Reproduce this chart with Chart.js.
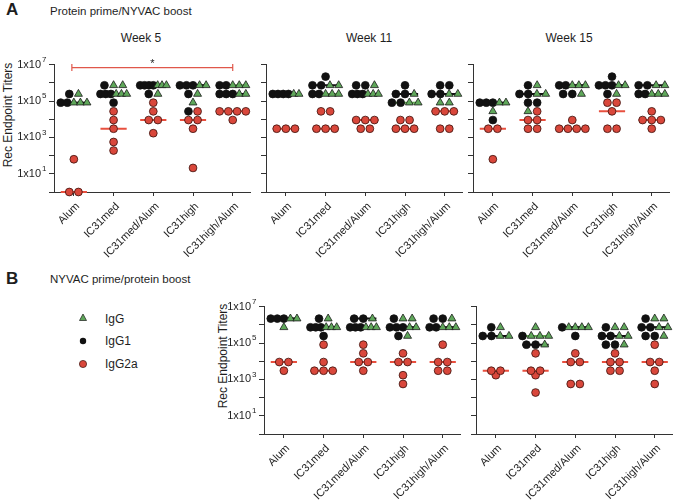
<!DOCTYPE html>
<html>
<head>
<meta charset="utf-8">
<script src="https://cdn.jsdelivr.net/npm/chart.js@4.4.1/dist/chart.umd.min.js"></script>
<style>
  body { margin: 0; width: 679px; height: 504px; position: relative; overflow: hidden; background: #fff;
         font-family: Arial, "Liberation Sans", sans-serif; color: #1e1e1e; }
  canvas { position: absolute; }
  .t { position: absolute; white-space: nowrap; font-size: 12px; line-height: 14px; transform: translate(-50%, -50%); }
  .l { position: absolute; white-space: nowrap; font-size: 12px; line-height: 14px; transform: translateY(-50%); }
  .big { font-weight: bold; font-size: 17px; line-height: 18px; }
  .rot { transform: translate(-50%, -50%) rotate(-90deg); }
</style>
</head>
<body>

<div class="l big" style="left:6px;top:10px">A</div>
<div class="l" style="left:50px;top:11px;font-size:11.5px">Protein prime/NYVAC boost</div>
<div class="l big" style="left:6px;top:279px">B</div>
<div class="l" style="left:50px;top:279px;font-size:11.5px">NYVAC prime/protein boost</div>

<div class="t" style="left:141px;top:38px">Week 5</div>
<div class="t" style="left:369px;top:38px">Week 11</div>
<div class="t" style="left:569px;top:38px">Week 15</div>

<div class="t rot" style="left:8px;top:115px">Rec Endpoint Titers</div>
<div class="t rot" style="left:223px;top:356px">Rec Endpoint Titers</div>

<!-- legend -->
<svg style="position:absolute;left:76px;top:310px" width="14" height="62">
  <polygon points="7,4 10.5,10.5 3.5,10.5" fill="#5fa75a" stroke="#1a1a1a" stroke-width="0.7"/>
  <circle cx="7" cy="31" r="3.2" fill="#111"/>
  <circle cx="7" cy="54" r="3.6" fill="#d9473b" stroke="#3a120d" stroke-width="0.7"/>
</svg>
<div class="l" style="left:105px;top:319px">IgG</div>
<div class="l" style="left:105px;top:341px">IgG1</div>
<div class="l" style="left:105px;top:364px">IgG2a</div>

<canvas id="w5" width="256" height="212" style="left:0px;top:50px"></canvas>
<canvas id="w11" width="210" height="212" style="left:258px;top:50px"></canvas>
<canvas id="w15" width="210" height="212" style="left:465px;top:50px"></canvas>
<canvas id="b1" width="256" height="212" style="left:210px;top:292px"></canvas>
<canvas id="b2" width="210" height="212" style="left:468px;top:292px"></canvas>

<script>
const groups = ["Alum", "IC31med", "IC31med/Alum", "IC31high", "IC31high/Alum"];
const yTickValues = [1, 1e1, 1e2, 1e3, 1e4, 1e5, 1e6, 1e7];

// Protein prime / NYVAC boost, week 5 (1 = below detection)
const w5IgG   = [[243000, 81000, 81000, 81000], [729000, 729000, 243000, 243000, 243000], [729000, 729000, 729000, 243000], [729000, 729000, 243000, 81000], [729000, 729000, 729000, 243000, 243000]];
const w5IgG1  = [[243000, 81000, 81000], [729000, 243000, 243000, 243000, 81000], [729000, 729000, 729000, 729000, 243000], [729000, 729000, 729000, 243000, 27000], [729000, 729000, 243000, 243000, 243000]];
const w5IgG2a = [[63, 1, 1], [27000, 9000, 3000, 560, 190], [81000, 27000, 9000, 9000, 1700], [27000, 9000, 9000, 3000, 21], [27000, 27000, 27000, 27000, 9000]];
const w5MedIgG   = [81000, 243000, 729000, 729000, 729000];
const w5MedIgG1  = [81000, 243000, 729000, 729000, 243000];
const w5MedIgG2a = [1, 3000, 9000, 9000, 27000];

// week 11
const w11IgG   = [[243000, 243000], [729000, 729000, 243000, 243000, 243000], [729000, 243000, 243000, 243000], [243000, 81000, 81000], [243000, 243000, 81000, 81000]];
const w11IgG1  = [[243000, 243000, 243000, 243000], [2187000, 729000, 729000, 243000, 243000], [729000, 729000, 243000, 243000, 243000], [729000, 243000, 243000, 81000, 81000], [729000, 729000, 243000, 243000]];
const w11IgG2a = [[3000, 3000, 3000], [27000, 27000, 3000, 3000, 3000], [9000, 9000, 9000, 3000, 3000], [9000, 9000, 3000, 3000, 3000], [27000, 27000, 27000, 3000, 3000]];
const w11MedIgG   = [243000, 243000, 243000, 81000, 243000];
const w11MedIgG1  = [243000, 729000, 243000, 243000, 243000];
const w11MedIgG2a = [3000, 3000, 9000, 3000, 27000];

// week 15
const w15IgG   = [[81000, 81000, 27000], [729000, 243000, 243000, 27000], [729000, 729000, 729000, 243000], [729000, 729000, 243000], [729000, 729000, 243000, 243000, 243000]];
const w15IgG1  = [[81000, 81000, 81000, 9000], [729000, 243000, 243000, 81000, 81000], [729000, 729000, 243000, 243000], [2187000, 729000, 729000, 729000, 243000], [729000, 729000, 243000, 243000]];
const w15IgG2a = [[3000, 3000, 63], [27000, 9000, 9000, 3000, 3000], [9000, 3000, 3000, 3000, 3000], [81000, 81000, 27000, 3000, 3000], [27000, 9000, 9000, 9000, 3000]];
const w15MedIgG   = [81000, 243000, 729000, 729000, 243000];
const w15MedIgG1  = [81000, 243000, 729000, 729000, 729000];
const w15MedIgG2a = [3000, 9000, 3000, 27000, 9000];

// NYVAC prime / protein boost, left panel
const b1IgG   = [[2187000, 2187000, 729000], [2187000, 729000, 729000, 729000], [2187000, 729000, 729000, 729000], [2187000, 2187000, 729000, 729000, 243000], [2187000, 729000, 729000, 729000]];
const b1IgG1  = [[2187000, 2187000, 2187000], [2187000, 729000, 729000, 729000, 243000], [2187000, 2187000, 729000, 729000, 729000], [2187000, 729000, 729000, 729000, 243000], [2187000, 2187000, 729000, 729000]];
const b1IgG2a = [[9000, 9000, 3000], [81000, 9000, 3000, 3000, 3000], [81000, 27000, 9000, 9000, 3000], [27000, 9000, 9000, 1700, 560], [81000, 9000, 9000, 3000, 3000]];
const b1MedIgG   = [2187000, 729000, 729000, 729000, 729000];
const b1MedIgG1  = [2187000, 729000, 2187000, 729000, 729000];
const b1MedIgG2a = [9000, 3000, 9000, 9000, 9000];

// right panel
const b2IgG   = [[729000, 243000, 243000], [729000, 243000, 243000, 243000, 81000], [729000, 729000, 729000, 729000], [729000, 729000, 243000, 243000, 81000], [2187000, 2187000, 729000, 729000, 243000]];
const b2IgG1  = [[729000, 243000, 243000], [243000, 81000, 81000], [729000, 243000], [729000, 243000, 243000, 81000, 81000], [2187000, 729000, 729000, 243000, 243000]];
const b2IgG2a = [[3000, 3000, 1700], [27000, 3000, 3000, 1700, 190], [27000, 9000, 9000, 560, 560], [27000, 9000, 9000, 3000, 3000], [81000, 9000, 9000, 3000, 560]];
const b2MedIgG   = [243000, 243000, 729000, 243000, 729000];
const b2MedIgG1  = [243000, 81000, 729000, 243000, 729000];
const b2MedIgG2a = [3000, 3000, 9000, 9000, 9000];

const GREEN = "#5fa75a", BLACK = "#111111", RED = "#d9473b";

Chart.defaults.font.family = 'Arial, "Liberation Sans", sans-serif';
Chart.defaults.color = "#1e1e1e";

// spread points sharing a value side by side (simple beeswarm)
function swarm(igg, igg1, igg2a) {
  const out = { igg: [], igg1: [], igg2a: [] };
  groups.forEach((g, c) => {
    const all = [];
    igg1[c].forEach(v => all.push({ k: "igg1", v }));
    igg[c].forEach(v => all.push({ k: "igg", v }));
    igg2a[c].forEach(v => all.push({ k: "igg2a", v }));
    const rows = {};
    all.forEach(p => (rows[p.v] = rows[p.v] || []).push(p));
    Object.values(rows).forEach(row => {
      const n = row.length;
      const step = n > 1 ? Math.min(0.23, 0.66 / (n - 1)) : 0;
      row.forEach((p, i) => out[p.k].push({ x: c + (i - (n - 1) / 2) * step, y: p.v }));
    });
  });
  return out;
}

function medianLine(med) {
  const d = [];
  med.forEach((m, c) => d.push({ x: c - 0.33, y: m }, { x: c + 0.33, y: m }, { x: c, y: null }));
  return d;
}

const exponents = {
  id: "exponents",
  afterDraw(chart) {
    const s = chart.scales.y, ctx = chart.ctx;
    ctx.save();
    ctx.font = "8px Arial, 'Liberation Sans', sans-serif";
    ctx.fillStyle = "#1e1e1e";
    ctx.textBaseline = "middle";
    s.ticks.forEach(t => {
      const e = Math.round(Math.log10(t.value));
      if (e % 2 !== 1) return;
      ctx.fillText(String(e), s.right - 12, s.getPixelForValue(t.value) - 5);
    });
    ctx.restore();
  }
};

const bracket = {
  id: "bracket",
  afterDraw(chart) {
    const x = chart.scales.x, ctx = chart.ctx;
    const x0 = x.getPixelForValue(0) - 2, x1 = x.getPixelForValue(4);
    const y = chart.chartArea.top + 3;
    ctx.save();
    ctx.strokeStyle = "#e0574a";
    ctx.lineWidth = 1.2;
    ctx.beginPath();
    ctx.moveTo(x0, y); ctx.lineTo(x1, y);
    ctx.moveTo(x0, y - 3.5); ctx.lineTo(x0, y + 3.5);
    ctx.moveTo(x1, y - 3.5); ctx.lineTo(x1, y + 3.5);
    ctx.stroke();
    ctx.fillStyle = "#1e1e1e";
    ctx.font = "11px Arial, 'Liberation Sans', sans-serif";
    ctx.textAlign = "center";
    ctx.fillText("*", (x0 + x1) / 2, y - 1);
    ctx.restore();
  }
};

function makePanel(id, igg, igg1, igg2a, medIgg, medIgg1, medIgg2a, withLabels, extra) {
  const pts = swarm(igg, igg1, igg2a);
  const plugins = [];
  if (withLabels) plugins.push(exponents);
  if (extra) plugins.push(extra);
  new Chart(document.getElementById(id), {
    type: "scatter",
    data: {
      datasets: [
        { label: "IgG", data: pts.igg, pointStyle: "triangle", pointRadius: 4.6, backgroundColor: GREEN,
          borderColor: "#1a1a1a", borderWidth: 0.8, order: 0, clip: false },
        { label: "IgG1", data: pts.igg1, pointStyle: "circle", pointRadius: 3.9, backgroundColor: BLACK,
          borderColor: BLACK, borderWidth: 0.8, order: 1, clip: false },
        { label: "IgG2a", data: pts.igg2a, pointStyle: "circle", pointRadius: 3.9, backgroundColor: RED,
          borderColor: "#3a120d", borderWidth: 0.8, order: 2, clip: false },
        { data: medianLine(medIgg), showLine: true, pointRadius: 0, borderColor: "#5faa4e", borderWidth: 2, order: 6, clip: false },
        { data: medianLine(medIgg1), showLine: true, pointRadius: 0, borderColor: "#111", borderWidth: 2, order: 5, clip: false },
        { data: medianLine(medIgg2a), showLine: true, pointRadius: 0, borderColor: "#e8503f", borderWidth: 2, order: 7, clip: false }
      ]
    },
    options: {
      responsive: false,
      animation: false,
      events: [],
      layout: { padding: { top: 9, right: 4, left: 0, bottom: 0 } },
      plugins: { legend: { display: false }, tooltip: { enabled: false } },
      scales: {
        x: {
          type: "linear", min: -0.5, max: 4.45,
          afterBuildTicks: s => { s.ticks = groups.map((g, i) => ({ value: i })); },
          afterFit: s => { s.height = 70; },
          grid: { drawOnChartArea: false, drawTicks: true, tickLength: 4, color: "#333" },
          border: { display: true, color: "#333", width: 1 },
          ticks: { autoSkip: false, minRotation: 45, maxRotation: 45, padding: 4, labelOffset: 4,
                   font: { size: 11 }, callback: v => groups[v] }
        },
        y: {
          type: "logarithmic", min: 1, max: 1e7,
          afterBuildTicks: s => { s.ticks = yTickValues.map(v => ({ value: v })); },
          afterFit: s => { s.width = withLabels ? 54 : 8; },
          grid: { drawOnChartArea: false, drawTicks: true, tickLength: 5, color: "#333" },
          border: { display: true, color: "#333", width: 1 },
          ticks: {
            autoSkip: false, padding: 8, font: { size: 11 },
            callback: v => {
              const e = Math.round(Math.log10(v));
              return withLabels && e % 2 === 1 ? "1x10" : "";
            }
          }
        }
      }
    },
    plugins: plugins
  });
}

makePanel("w5", w5IgG, w5IgG1, w5IgG2a, w5MedIgG, w5MedIgG1, w5MedIgG2a, true, bracket);
makePanel("w11", w11IgG, w11IgG1, w11IgG2a, w11MedIgG, w11MedIgG1, w11MedIgG2a, false);
makePanel("w15", w15IgG, w15IgG1, w15IgG2a, w15MedIgG, w15MedIgG1, w15MedIgG2a, false);
makePanel("b1", b1IgG, b1IgG1, b1IgG2a, b1MedIgG, b1MedIgG1, b1MedIgG2a, true);
makePanel("b2", b2IgG, b2IgG1, b2IgG2a, b2MedIgG, b2MedIgG1, b2MedIgG2a, false);
</script>
</body>
</html>
